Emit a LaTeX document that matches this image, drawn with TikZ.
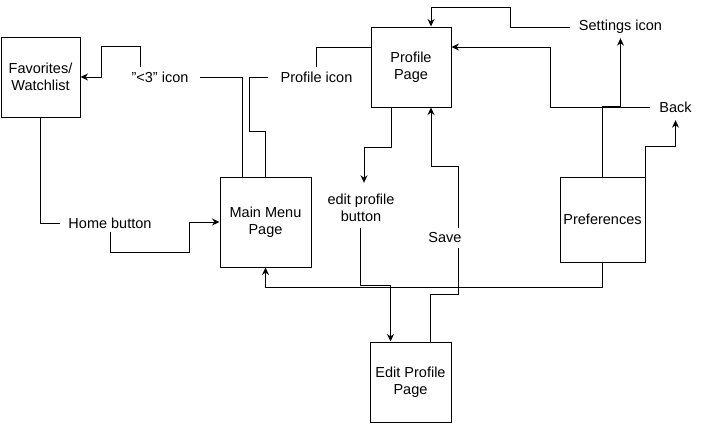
\documentclass[tikz,border=0pt]{standalone}
\usepackage{fontspec}
\setmainfont{Liberation Sans}
\usetikzlibrary{arrows.meta}
\begin{document}
\begin{tikzpicture}[x=1pt,y=-1pt,
  every node/.style={font=\fontsize{14.5}{17}\selectfont, align=center, inner sep=0pt},
  page/.style={draw, line width=1pt, fill=white},
  lbl/.style={},
  conn/.style={line width=1pt},
  arr/.style={line width=1pt, -{Stealth[length=7.5pt,width=7pt]}}]
\useasboundingbox (0,0) rectangle (701,423);
% pages
\node[page, minimum width=79, minimum height=80] (fav) at (40.5,77) {Favorites/\\Watchlist};
\node[page, minimum width=80, minimum height=80] (prof) at (411,67) {Profile\\Page};
\node[page, minimum width=91, minimum height=90] (main) at (265.5,222) {Main Menu\\Page};
\node[page, minimum width=85, minimum height=85] (pref) at (602.5,219.5) {Preferences};
\node[page, minimum width=81, minimum height=80] (edit) at (410.5,382) {Edit Profile\\Page};
% labels
\node[lbl, minimum width=80, minimum height=20] (heart) at (160,77) {"<3" icon};
\node[lbl, minimum width=97, minimum height=20] (picon) at (316.5,77) {Profile icon};
\node[lbl, minimum width=101, minimum height=22] (sicon) at (620.5,27) {Settings icon};
\node[lbl, minimum width=51, minimum height=26] (back) at (675.5,107) {Back};
\node[lbl, minimum width=100, minimum height=18] (home) at (110,223) {Home button};
\node[lbl, minimum width=80, minimum height=50] (epb) at (361,208) {edit profile\\button};
\node[lbl, minimum width=34, minimum height=20] (save) at (445,238) {Save};
% connectors
\draw[conn] (fav.south) |- (home.west);
\draw[arr] (home.south) -- ++(0,20) -| ([xshift=-30pt]main.west) -- (main.west);
\draw[conn] ([xshift=23pt]main.north west) |- (heart.east);
\draw[arr] ([xshift=-20pt]heart.north) -- ++(0,-20) -- ++(-39,0) |- (fav.east);
\draw[conn] (main.north) -- ++(0,-45) -| ([xshift=-18pt]picon.west) -- (picon.west);
\draw[conn] (picon.north) |- ([yshift=20pt]prof.west);
\draw[arr] (pref.north) -- ++(0,-70) -| (sicon.south);
\draw[arr] (sicon.west) -| ++(-59,-20) -| ([xshift=20pt]prof.north);
\draw[arr] (pref.north east) -- ++(0,-30) -| (back.south);
\draw[arr] (back.west) -- ++(-99,0) |- ([yshift=20pt]prof.east);
\draw[arr] ([xshift=-20pt]prof.south) -- ++(0,40) -| ([xshift=3pt]epb.north);
\draw[arr] ([xshift=-1pt,yshift=5pt]epb.south) -- ++(0,57) -| ([xshift=-20pt]edit.north);
\draw[conn] ([xshift=20pt]edit.north) -- ++(0,-47) -| ([xshift=13pt]save.south);
\draw[arr] ([xshift=13pt]save.north) -- ++(0,-61) -| ([xshift=20pt]prof.south);
\draw[arr] (pref.south) -- ++(0,25) -| (main.south);
\end{tikzpicture}
\end{document}
